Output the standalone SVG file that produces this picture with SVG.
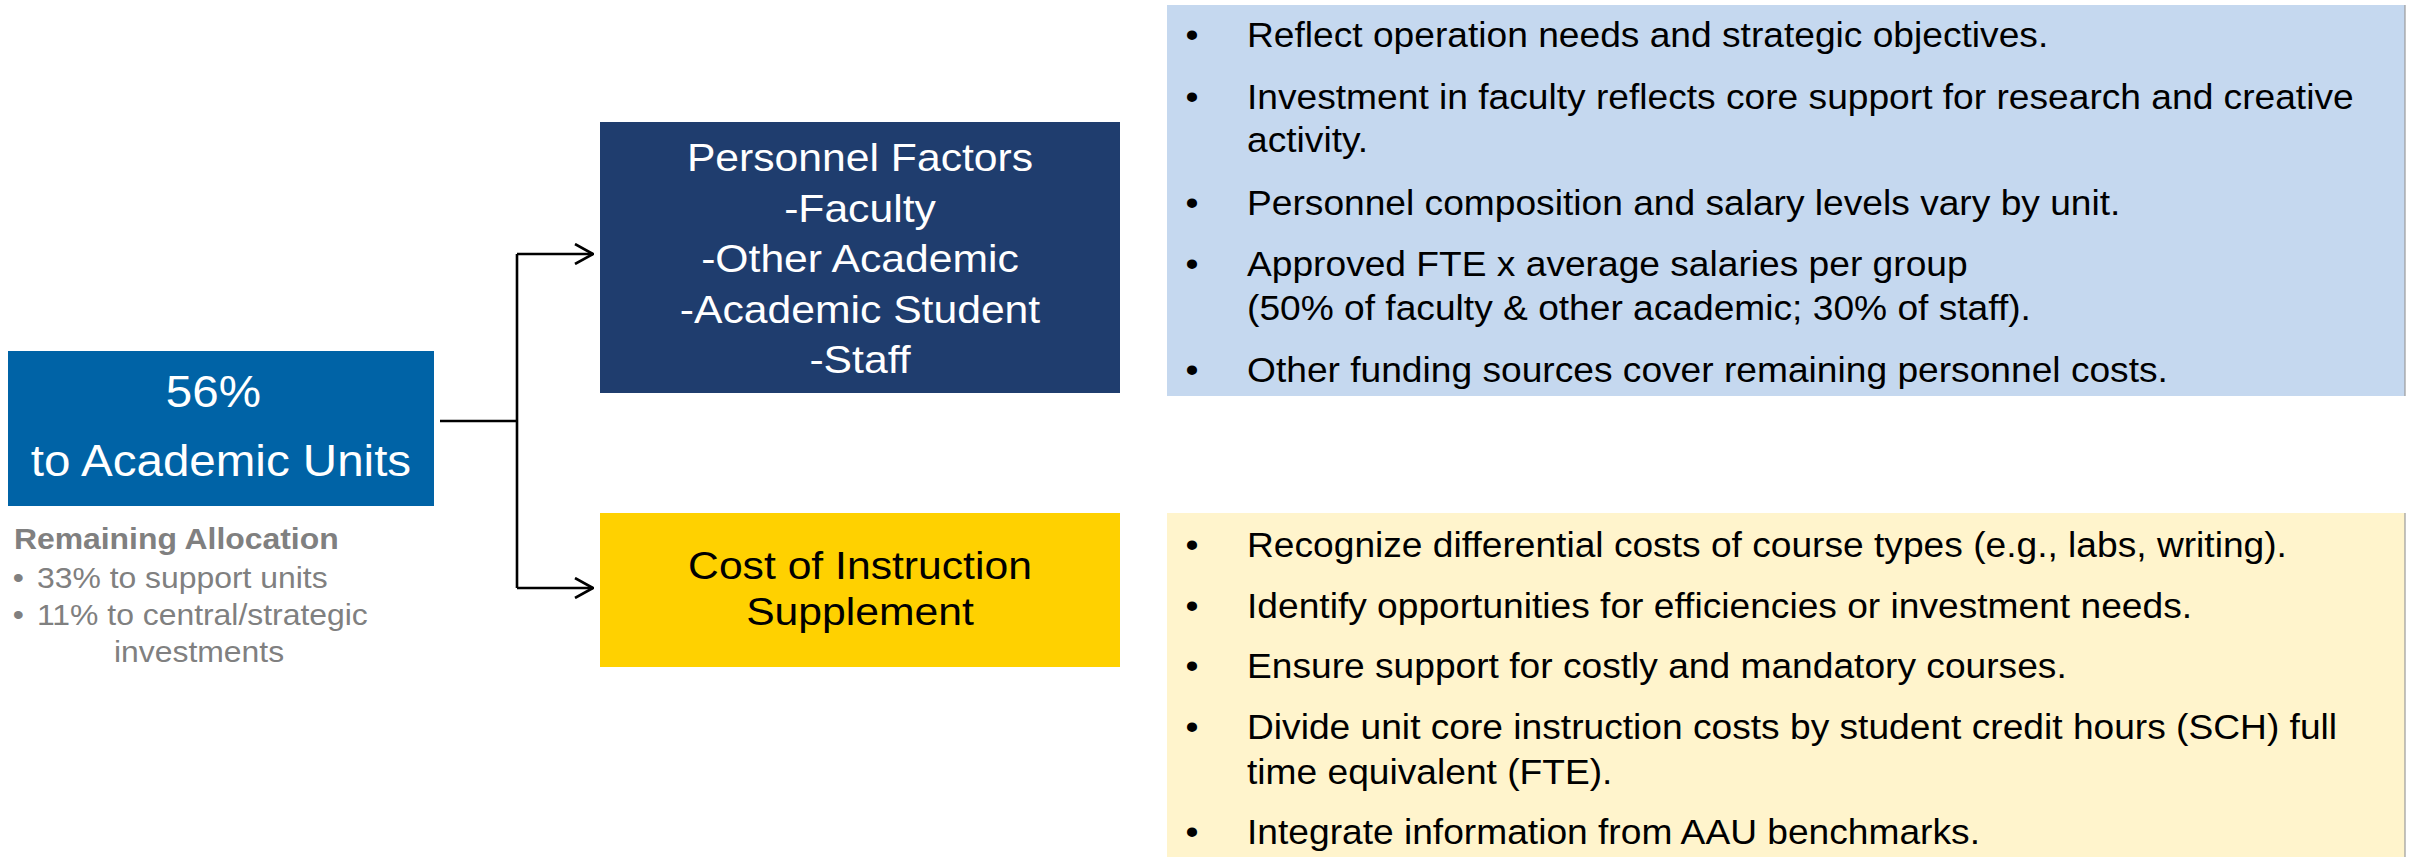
<svg xmlns="http://www.w3.org/2000/svg" width="2414" height="857" viewBox="0 0 2414 857">
  <defs>
    <style>
      .t { font-family: "Liberation Sans", Arial, sans-serif; }
      .w { fill: #FFFFFF; }
      .k { fill: #000000; }
      .g { fill: #808080; }
      .conn { fill: none; stroke: #000000; stroke-width: 2.6; }
    </style>
    <marker id="chev" viewBox="0 0 20 22" refX="19" refY="11" markerWidth="20" markerHeight="22" markerUnits="userSpaceOnUse" orient="auto">
      <path d="M1,1 L19,11 L1,21" fill="none" stroke="#000000" stroke-width="2.6"/>
    </marker>
  </defs>

  <rect width="2414" height="857" fill="#FFFFFF"/>

  <!-- source block -->
  <g id="academic-units">
    <rect x="8" y="351" width="426" height="155" fill="#0063A6"/>
    <g class="t w" text-anchor="middle" font-size="44" transform="matrix(1.08 0 0 1 -17.7 0)">
      <text x="214" y="407">56%</text>
      <text x="221" y="476">to Academic Units</text>
    </g>
  </g>

  <g id="remaining-allocation" class="t g" font-size="29" transform="matrix(1.1 0 0 1 -1.5 0)">
    <text x="14" y="549" font-weight="bold">Remaining Allocation</text>
    <text x="13" y="588">•</text>
    <text x="35" y="588">33% to support units</text>
    <text x="13" y="625">•</text>
    <text x="35" y="625">11% to central/strategic</text>
    <text x="105" y="662">investments</text>
  </g>

  <!-- connectors -->
  <g id="connectors">
    <path class="conn" d="M440,421 H517"/>
    <path class="conn" d="M517,254 V588"/>
    <path class="conn" d="M517,254 H593" marker-end="url(#chev)"/>
    <path class="conn" d="M517,588 H593" marker-end="url(#chev)"/>
  </g>

  <!-- personnel factors -->
  <g id="personnel-factors">
    <rect x="600" y="122" width="520" height="271" fill="#1F3D6E"/>
    <g class="t w" text-anchor="middle" font-size="39.5" transform="matrix(1.08 0 0 1 -68.8 0)">
      <text x="860" y="171">Personnel Factors</text>
      <text x="860" y="222">-Faculty</text>
      <text x="860" y="272">-Other Academic</text>
      <text x="860" y="323">-Academic Student</text>
      <text x="860" y="373">-Staff</text>
    </g>
  </g>

  <!-- cost of instruction -->
  <g id="cost-of-instruction">
    <rect x="600" y="513" width="520" height="154" fill="#FFD100"/>
    <g class="t k" text-anchor="middle" font-size="39.5" transform="matrix(1.08 0 0 1 -68.8 0)">
      <text x="860" y="579">Cost of Instruction</text>
      <text x="860" y="625">Supplement</text>
    </g>
  </g>

  <!-- personnel notes -->
  <g id="personnel-notes">
    <rect x="1167" y="5" width="1238" height="391" fill="#C5D8EF"/>
    <line x1="2405" y1="5" x2="2405" y2="396" stroke="#9A9A9A" stroke-width="1.2"/>
    <g class="t k" font-size="34.5" transform="matrix(1.077 0 0 1 -96 0)">
      <text x="1190" y="47">•</text>
      <text x="1247" y="47">Reflect operation needs and strategic objectives.</text>
      <text x="1190" y="109">•</text>
      <text x="1247" y="109">Investment in faculty reflects core support for research and creative</text>
      <text x="1247" y="152">activity.</text>
      <text x="1190" y="215">•</text>
      <text x="1247" y="215">Personnel composition and salary levels vary by unit.</text>
      <text x="1190" y="276">•</text>
      <text x="1247" y="276">Approved FTE x average salaries per group</text>
      <text x="1247" y="320">(50% of faculty &amp; other academic; 30% of staff).</text>
      <text x="1190" y="382">•</text>
      <text x="1247" y="382">Other funding sources cover remaining personnel costs.</text>
    </g>
  </g>

  <!-- instruction notes -->
  <g id="instruction-notes">
    <rect x="1167" y="513" width="1238" height="344" fill="#FFF4CC"/>
    <line x1="2405" y1="513" x2="2405" y2="857" stroke="#9A9A9A" stroke-width="1.2"/>
    <g class="t k" font-size="34.5" transform="matrix(1.077 0 0 1 -96 0)">
      <text x="1190" y="557">•</text>
      <text x="1247" y="557">Recognize differential costs of course types (e.g., labs, writing).</text>
      <text x="1190" y="618">•</text>
      <text x="1247" y="618">Identify opportunities for efficiencies or investment needs.</text>
      <text x="1190" y="678">•</text>
      <text x="1247" y="678">Ensure support for costly and mandatory courses.</text>
      <text x="1190" y="739">•</text>
      <text x="1247" y="739">Divide unit core instruction costs by student credit hours (SCH) full</text>
      <text x="1247" y="784">time equivalent (FTE).</text>
      <text x="1190" y="844">•</text>
      <text x="1247" y="844">Integrate information from AAU benchmarks.</text>
    </g>
  </g>
</svg>
